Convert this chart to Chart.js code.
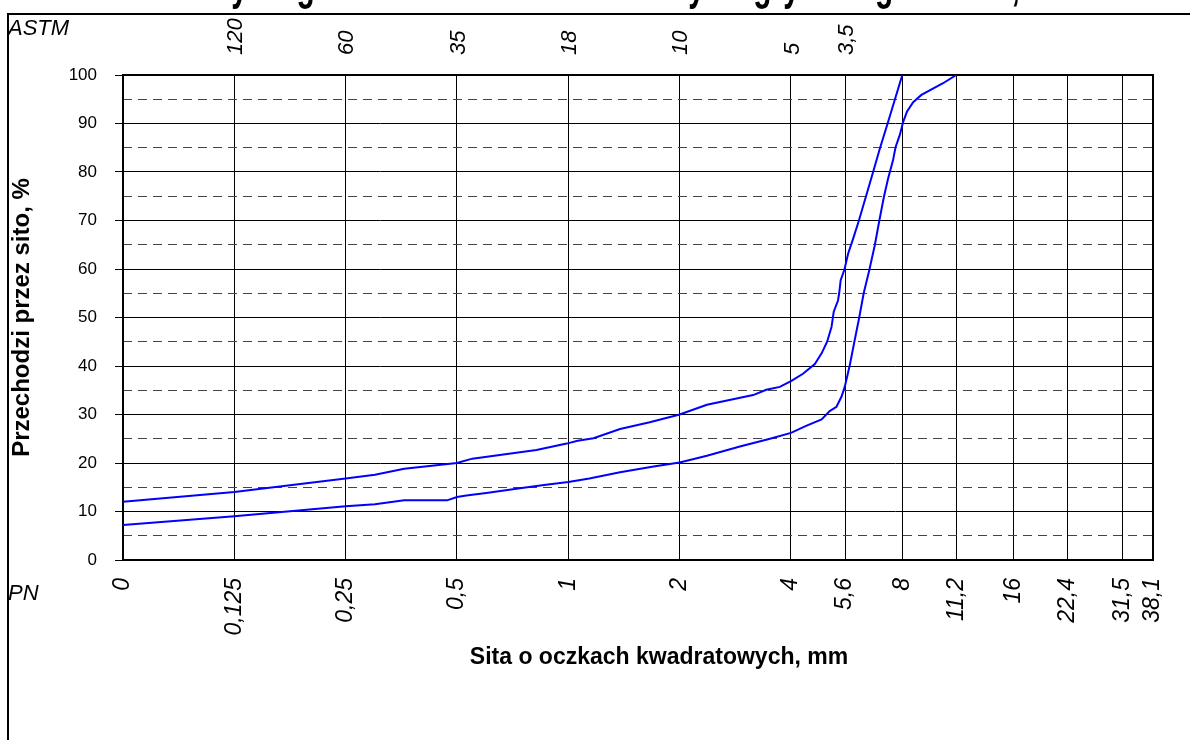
<!DOCTYPE html>
<html><head><meta charset="utf-8">
<script src="https://cdn.jsdelivr.net/npm/chart.js@4.4.1/dist/chart.umd.min.js"></script>
<style>html,body{margin:0;padding:0;background:#fff}canvas{display:block}</style>
</head><body>
<canvas id="c" width="1190" height="740"></canvas>
<script>
// PN sieve openings (mm) along the bottom axis and how they are printed
const pnSieves = [0, 0.125, 0.25, 0.5, 1, 2, 4, 5.6, 8, 11.2, 16, 22.4, 31.5, 38.1];
const pnLabels = ['0', '0,125', '0,25', '0,5', '1', '2', '4', '5,6', '8', '11,2', '16', '22,4', '31,5', '38,1'];
// ASTM sieve numbers printed above the matching PN openings
const astmSieves = [0.125, 0.25, 0.5, 1, 2, 4, 5.6];
const astmLabels = ['120', '60', '35', '18', '10', '5', '3,5'];
// Upper grading limit: opening (mm) and passing (%)
const upperSize = [0, 0.125, 0.25, 0.30, 0.36, 0.5, 0.55, 0.82, 0.99, 1.06, 1.17, 1.38, 1.66, 2, 2.37, 3.16, 3.43, 3.73, 4, 4.31, 4.64, 4.84, 5.01, 5.15, 5.22, 5.36, 5.40, 5.45, 5.58, 5.71, 5.87, 6.10, 6.37, 6.67, 6.96, 7.30, 8];
const upperPass = [12.0, 14.0, 16.8, 17.6, 18.8, 20.0, 20.9, 22.7, 24.0, 24.6, 25.1, 27.0, 28.4, 30.0, 32.0, 34.0, 35.1, 35.7, 36.9, 38.4, 40.4, 42.6, 45.0, 48.1, 51.2, 53.5, 55.0, 57.7, 59.9, 63.2, 65.9, 69.9, 74.8, 80.0, 84.9, 90.0, 100];
// Lower grading limit: opening (mm) and passing (%)
const lowerSize = [0, 0.125, 0.25, 0.30, 0.36, 0.47, 0.5, 0.53, 0.60, 0.74, 0.87, 1, 1.14, 1.38, 1.70, 2, 2.37, 2.91, 3.51, 4, 4.41, 4.84, 5.09, 5.31, 5.48, 5.59, 5.77, 5.95, 6.11, 6.29, 6.51, 6.74, 6.93, 7.13, 7.32, 7.55, 7.67, 7.88, 8.04, 8.24, 8.56, 9.01, 10.31, 11.2];
const lowerPass = [7.2, 9.0, 11.1, 11.5, 12.3, 12.3, 13.0, 13.3, 13.8, 14.8, 15.5, 16.1, 16.8, 18.1, 19.3, 20.1, 21.5, 23.4, 25.0, 26.2, 27.7, 29.0, 30.7, 31.6, 33.7, 35.7, 40.2, 45.4, 49.8, 55.0, 59.7, 64.9, 69.9, 74.8, 78.6, 82.4, 85.1, 87.7, 90.3, 92.5, 94.4, 95.9, 98.3, 100];
// Passing-percent gridlines: solid every 10, dashed halfway between
const yMajor = [0, 10, 20, 30, 40, 50, 60, 70, 80, 90, 100];
const yMinor = [5, 15, 25, 35, 45, 55, 65, 75, 85, 95];

// The "0" opening sits one doubling below 0.125 on the log axis
const ZERO_AT = 0.0625;
const X_MAX = 38.1;
const pos = s => (s === 0 ? ZERO_AT : s);
const toPoints = (sizes, pass) => sizes.map((s, i) => ({ x: pos(s), y: pass[i] }));

const FONT = 'Arial, "Liberation Sans", sans-serif';
const TITLE = 'Krzywe graniczne uziarnienia kruszywa grysowego SMA 8, KR 3-6';
const noSidePadding = s => { s.paddingLeft = 0; s.paddingRight = 0; };
const noEndPadding = s => { s.paddingTop = 0; s.paddingBottom = 0; };

const decorations = {
  id: 'decorations',
  beforeDraw(chart) {
    const ctx = chart.ctx;
    ctx.save();
    ctx.fillStyle = '#fff';
    ctx.fillRect(0, 0, chart.width, chart.height);
    // chart title, sitting above the top edge so only its descenders show
    ctx.fillStyle = '#000';
    ctx.font = 'bold 30px ' + FONT;
    ctx.textAlign = 'left';
    ctx.textBaseline = 'alphabetic';
    ctx.translate(183, -1);
    ctx.scale(1, 1.6);
    ctx.fillText(TITLE, 0, 0);
    ctx.restore();
  },
  beforeDatasetsDraw(chart) {
    const { ctx, chartArea: a } = chart;
    ctx.save();
    ctx.strokeStyle = '#000';
    ctx.lineWidth = 2;
    ctx.strokeRect(a.left, a.top, a.right - a.left, a.bottom - a.top);
    ctx.restore();
  },
  afterDraw(chart) {
    const ctx = chart.ctx;
    ctx.save();
    // outer frame
    ctx.strokeStyle = '#000';
    ctx.lineWidth = 2;
    ctx.beginPath();
    ctx.moveTo(1190, 14);
    ctx.lineTo(8, 14);
    ctx.lineTo(8, 740);
    ctx.stroke();
    // series names of the two axes
    ctx.fillStyle = '#000';
    ctx.font = 'italic 22px ' + FONT;
    ctx.textAlign = 'left';
    ctx.textBaseline = 'alphabetic';
    ctx.fillText('ASTM', 8, 35);
    ctx.fillText('PN', 8, 600);
    // x axis title
    ctx.font = 'bold 23px ' + FONT;
    ctx.textAlign = 'center';
    ctx.fillText('Sita o oczkach kwadratowych, mm', 659, 664);
    ctx.restore();
  }
};

new Chart(document.getElementById('c'), {
  type: 'line',
  data: {
    datasets: [
      { label: 'Górna granica', data: toPoints(upperSize, upperPass) },
      { label: 'Dolna granica', data: toPoints(lowerSize, lowerPass) }
    ]
  },
  options: {
    responsive: false,
    animation: false,
    devicePixelRatio: 1,
    layout: { padding: { left: 0, right: 37, top: 0, bottom: 0 } },
    elements: {
      line: { borderColor: '#0000ff', borderWidth: 2, tension: 0, fill: false },
      point: { radius: 0, hoverRadius: 0 }
    },
    plugins: { legend: { display: false }, tooltip: { enabled: false } },
    scales: {
      x: {
        type: 'logarithmic',
        position: 'bottom',
        min: ZERO_AT,
        max: X_MAX,
        afterBuildTicks: s => { s.ticks = pnSieves.map(v => ({ value: pos(v) })); },
        afterFit: s => { s.height = 180; noSidePadding(s); },
        ticks: {
          autoSkip: false,
          maxRotation: 90,
          minRotation: 90,
          padding: 18,
          color: '#000',
          font: { family: FONT, size: 23, style: 'italic' },
          callback: (v, i) => pnLabels[i]
        },
        grid: { color: '#000', lineWidth: 1, drawTicks: false },
        border: { display: false }
      },
      xTop: {
        type: 'logarithmic',
        position: 'top',
        min: ZERO_AT,
        max: X_MAX,
        afterBuildTicks: s => { s.ticks = astmSieves.map(v => ({ value: v })); },
        afterFit: s => { s.height = 75; noSidePadding(s); },
        ticks: {
          autoSkip: false,
          maxRotation: 90,
          minRotation: 90,
          padding: 20,
          labelOffset: 28,
          color: '#000',
          font: { family: FONT, size: 22, style: 'italic' },
          callback: (v, i) => astmLabels[i]
        },
        grid: { display: false, drawTicks: false },
        border: { display: false }
      },
      y: {
        position: 'left',
        min: 0,
        max: 100,
        afterBuildTicks: s => { s.ticks = yMajor.map(v => ({ value: v })); },
        afterFit: s => { s.width = 123; noEndPadding(s); },
        ticks: {
          padding: 18,
          color: '#000',
          font: { family: FONT, size: 17 }
        },
        grid: { color: '#000', lineWidth: 1, tickLength: 8, tickColor: '#000' },
        border: { display: false },
        title: {
          display: true,
          text: 'Przechodzi przez sito, %',
          color: '#000',
          font: { family: FONT, size: 24, weight: 'bold' },
          padding: { top: 8, bottom: 0 }
        }
      },
      yMinor: {
        position: 'left',
        min: 0,
        max: 100,
        afterBuildTicks: s => { s.ticks = yMinor.map(v => ({ value: v })); },
        afterFit: s => { s.width = 0; noEndPadding(s); },
        ticks: { display: false },
        grid: { color: '#444', lineWidth: 1, drawTicks: false },
        border: { display: false, dash: [9, 6] }
      }
    }
  },
  plugins: [decorations]
});
</script>
</body></html>
